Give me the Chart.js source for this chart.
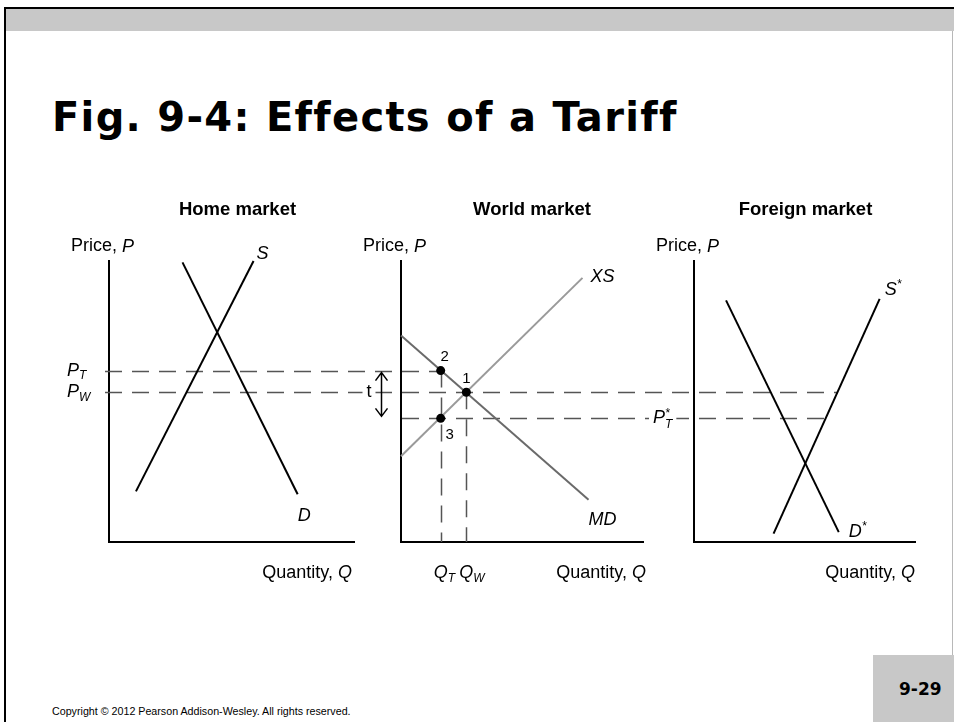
<!DOCTYPE html>
<html>
<head>
<meta charset="utf-8">
<title>Fig. 9-4: Effects of a Tariff</title>
<script src="https://cdn.jsdelivr.net/npm/chart.js@4.4.0/dist/chart.umd.min.js"></script>
<style>
  html, body { margin: 0; padding: 0; background: #fff; }
  body { width: 954px; height: 722px; position: relative; overflow: hidden; font-family: "Liberation Sans", Arial, sans-serif; }
  .frame-top { position: absolute; left: 4px; top: 7px; width: 950px; height: 2px; background: #000; }
  .frame-left { position: absolute; left: 4px; top: 7px; width: 2px; height: 715px; background: #000; }
  .band { position: absolute; left: 6px; top: 9px; width: 948px; height: 22px; background: #c8c8c8; }
  .frame-right { position: absolute; left: 952px; top: 31px; width: 1px; height: 624px; background: #b8b8b8; }
  h1 { position: absolute; left: 52px; top: 97px; margin: 0; font: bold 40px/40px "DejaVu Sans", Verdana, sans-serif; letter-spacing: 1.3px; white-space: nowrap; }
  .panel { position: absolute; top: 190px; }
  .copyright { position: absolute; left: 52px; top: 706px; font-size: 10.7px; line-height: 10px; white-space: nowrap; }
  .pagenum { position: absolute; left: 873px; top: 655px; width: 81px; height: 67px; background: #c8c8c8; }
  .pagenum span { position: absolute; left: 26px; top: 26px; font: bold 17px/17px "DejaVu Sans", sans-serif; }
</style>
</head>
<body>
<div class="frame-top"></div>
<div class="band"></div>
<div class="frame-left"></div>
<div class="frame-right"></div>
<h1>Fig. 9-4: Effects of a Tariff</h1>

<canvas id="home" class="panel" width="360" height="410" style="left:0px"></canvas>
<canvas id="world" class="panel" width="288" height="410" style="left:360px"></canvas>
<canvas id="foreign" class="panel" width="306" height="410" style="left:648px"></canvas>

<div class="copyright">Copyright © 2012 Pearson Addison-Wesley. All rights reserved.</div>
<div class="pagenum"><span>9-29</span></div>

<script>
// price levels shared by all three panels (same vertical scale 0-100)
const priceT = 61;       // P_T, home price with the tariff
const priceW = 53.3;     // P_W, free trade world price
const priceTstar = 44;   // P*_T, foreign price with the tariff

// home market curves [quantity, price]
const homeSupply = [[11, 18], [59, 100]];
const homeDemand = [[30, 99.5], [77, 17]];

// world market curves
const exportSupply = [[0, 30.5], [75, 94]];
const importDemand = [[0, 73.5], [77.5, 15]];
const qtyT = 16.4;   // Q_T
const qtyW = 27;     // Q_W
const worldPoints = [[qtyW, priceW], [qtyT, priceT], [qtyT, priceTstar]];
const worldPointNames = ['1', '2', '3'];

// foreign market curves
const foreignSupply = [[36, 3], [84, 86.5]];
const foreignDemand = [[14.5, 86], [65.5, 3.5]];

const FAM = '"Liberation Sans", Arial, sans-serif';
const DASH = [17, 10];
const DASH_ORIGIN = 105;
const GUIDE_COLOR = '#555';

// quantity where a straight curve reaches a given price
function qtyAt(line, p) {
  const [[x0, y0], [x1, y1]] = line;
  return x0 + (p - y0) * (x1 - x0) / (y1 - y0);
}

function fontOf(mode, size) {
  if (mode === 'b') return 'bold ' + size + 'px ' + FAM;
  if (mode === 'i') return 'italic ' + size + 'px ' + FAM;
  if (mode === 'sub' || mode === 'sup' || mode === 'ss') return 'italic ' + Math.round(size * 0.64) + 'px ' + FAM;
  return size + 'px ' + FAM;
}

function partWidth(ctx, p, size) {
  ctx.font = fontOf(p[1], size);
  if (p[1] === 'ss') return Math.max(...p[0].split('|').map(s => ctx.measureText(s).width));
  return ctx.measureText(p[0]).width;
}

// draws text made of parts like ['P','i'], ['T','sub'], ['*|T','ss']
function drawRich(ctx, parts, x, y, size, align, bg) {
  const widths = parts.map(p => partWidth(ctx, p, size));
  const total = widths.reduce((a, b) => a + b, 0);
  let cx = align === 'center' ? x - total / 2 : align === 'right' ? x - total : x;
  if (bg) {
    ctx.fillStyle = '#fff';
    ctx.fillRect(cx - 4, y - size * 0.6, total + 8, size * 1.25);
  }
  ctx.fillStyle = '#000';
  ctx.textBaseline = 'middle';
  ctx.textAlign = 'left';
  parts.forEach((p, i) => {
    ctx.font = fontOf(p[1], size);
    if (p[1] === 'sub') ctx.fillText(p[0], cx, y + size * 0.3);
    else if (p[1] === 'sup') ctx.fillText(p[0], cx, y - size * 0.3);
    else if (p[1] === 'ss') {
      const [a, b] = p[0].split('|');
      ctx.fillText(a, cx, y - size * 0.28);
      ctx.fillText(b, cx, y + size * 0.34);
    } else ctx.fillText(p[0], cx, y);
    cx += widths[i];
  });
}

// guide lines, arrow and labels, all placed through the chart scales
function decor(spec, pageLeft) {
  function px(chart, v, side) {
    const xs = chart.scales.x;
    if (v === 'edge') return side === 0 ? 0 : chart.width;
    if (v === 'axis') return xs.getPixelForValue(0) - 4;
    return xs.getPixelForValue(v);
  }
  return {
    id: 'decor',
    beforeDatasetsDraw(chart) {
      const ctx = chart.ctx, xs = chart.scales.x, ys = chart.scales.y;
      ctx.save();
      ctx.strokeStyle = GUIDE_COLOR;
      ctx.lineWidth = 1.5;
      ctx.setLineDash(DASH);
      (spec.hGuides || []).forEach(g => {
        const x0 = px(chart, g.from, 0), x1 = px(chart, g.to, 1), y = Math.round(ys.getPixelForValue(g.y)) + 0.5;
        ctx.lineDashOffset = pageLeft + x0 - DASH_ORIGIN;
        ctx.beginPath(); ctx.moveTo(x0, y); ctx.lineTo(x1, y); ctx.stroke();
      });
      (spec.vGuides || []).forEach(g => {
        const x = Math.round(xs.getPixelForValue(g.x)) + 0.5;
        const y0 = ys.getPixelForValue(g.from), y1 = ys.getPixelForValue(g.to);
        ctx.lineDashOffset = 0;
        ctx.beginPath(); ctx.moveTo(x, y0); ctx.lineTo(x, y1); ctx.stroke();
      });
      ctx.restore();
    },
    afterDatasetsDraw(chart) {
      const ctx = chart.ctx, xs = chart.scales.x, ys = chart.scales.y;
      ctx.save();
      if (spec.arrow) {
        const a = spec.arrow;
        const x = xs.getPixelForValue(0) + a.dx;
        const yTop = ys.getPixelForValue(a.from) + 2, yBot = ys.getPixelForValue(a.to) - 2;
        ctx.strokeStyle = '#000';
        ctx.lineWidth = 1.5;
        ctx.beginPath();
        ctx.moveTo(x, yTop); ctx.lineTo(x, yBot);
        ctx.moveTo(x - 6, yTop + 8); ctx.lineTo(x, yTop); ctx.lineTo(x + 6, yTop + 8);
        ctx.moveTo(x - 6, yBot - 8); ctx.lineTo(x, yBot); ctx.lineTo(x + 6, yBot - 8);
        ctx.stroke();
      }
      (spec.labels || []).forEach(l => {
        const x = xs.getPixelForValue(l.x) + (l.dx || 0);
        const y = ys.getPixelForValue(l.y) + (l.dy || 0);
        drawRich(ctx, l.parts, x, y, l.size || 18, l.align || 'left', l.bg);
      });
      ctx.restore();
    }
  };
}

function curve(pts, color) {
  return {
    data: pts.map(([x, y]) => ({ x, y })),
    showLine: true, borderColor: color, borderWidth: 2,
    pointRadius: 0, clip: false
  };
}

function panelOptions(padding) {
  const axis = { type: 'linear', min: 0, max: 100,
    grid: { display: false, drawTicks: false, tickLength: 0 },
    ticks: { display: false, padding: 0 },
    border: { display: true, color: '#000', width: 2 } };
  return {
    responsive: false, animation: false, devicePixelRatio: 1, events: [],
    layout: { padding },
    plugins: { legend: { display: false }, tooltip: { enabled: false } },
    scales: { x: { ...axis }, y: { ...axis } }
  };
}

function axisLabels(title, titleDx, qDx) {
  return [
    { parts: [[title, 'b']], x: 50, y: 100, dx: titleDx, dy: -51, align: 'center', size: 18.5 },
    { parts: [['Price, ', ''], ['P', 'i']], x: 0, y: 100, dx: -38, dy: -14.5 },
    { parts: [['Quantity, ', ''], ['Q', 'i']], x: 100, y: 0, dx: qDx, dy: 31, align: 'right' }
  ];
}

// Home market
new Chart(document.getElementById('home'), {
  type: 'scatter',
  data: { datasets: [curve(homeSupply, '#000'), curve(homeDemand, '#000')] },
  options: panelOptions({ left: 109, right: 6, top: 71, bottom: 58 }),
  plugins: [decor({
    hGuides: [{ y: priceT, from: 'axis', to: 'edge' }, { y: priceW, from: 'axis', to: 'edge' }],
    labels: axisLabels('Home market', 6, -2).concat([
      { parts: [['S', 'i']], x: homeSupply[1][0], y: homeSupply[1][1], dx: 3, dy: -7 },
      { parts: [['D', 'i']], x: homeDemand[1][0], y: homeDemand[1][1], dx: 0, dy: 22 },
      { parts: [['P', 'i'], ['T', 'sub']], x: 0, y: priceT, dx: -42 },
      { parts: [['P', 'i'], ['W', 'sub']], x: 0, y: priceW, dx: -42 }
    ])
  }, 0)]
});

// World market (first dataset is drawn on top, so the points come first)
new Chart(document.getElementById('world'), {
  type: 'scatter',
  data: {
    datasets: [
      { data: worldPoints.map(([x, y]) => ({ x, y })), pointRadius: 4.5, backgroundColor: '#000', borderWidth: 0, clip: false },
      curve(importDemand, '#6a6a6a'),
      curve(exportSupply, '#9a9a9a')
    ]
  },
  options: panelOptions({ left: 41, right: 5, top: 71, bottom: 58 }),
  plugins: [decor({
    hGuides: [
      { y: priceT, from: 'edge', to: qtyT },
      { y: priceW, from: 'edge', to: 'edge' },
      { y: priceTstar, from: 0, to: 'edge' }
    ],
    vGuides: [{ x: qtyT, from: priceT, to: 0 }, { x: qtyW, from: priceW, to: 0 }],
    arrow: { dx: -19.5, from: priceT, to: priceTstar },
    labels: axisLabels('World market', 10, 3).concat([
      { parts: [['XS', 'i']], x: exportSupply[1][0], y: exportSupply[1][1], dx: 8, dy: -1 },
      { parts: [['MD', 'i']], x: importDemand[1][0], y: importDemand[1][1], dx: 0, dy: 20 },
      { parts: [['t', '']], x: 0, y: priceW, dx: -32, align: 'center', bg: true },
      { parts: [[worldPointNames[0], '']], x: worldPoints[0][0], y: worldPoints[0][1], dx: 0, dy: -13, align: 'center', size: 15 },
      { parts: [[worldPointNames[1], '']], x: worldPoints[1][0], y: worldPoints[1][1], dx: 4, dy: -14, align: 'center', size: 15 },
      { parts: [[worldPointNames[2], '']], x: worldPoints[2][0], y: worldPoints[2][1], dx: 9, dy: 16, align: 'center', size: 15 },
      { parts: [['Q', 'i'], ['T', 'sub']], x: qtyT, y: 0, dx: -7, dy: 31 },
      { parts: [['Q', 'i'], ['W', 'sub']], x: qtyW, y: 0, dx: -7, dy: 31 }
    ])
  }, 360)]
});

// Foreign market
new Chart(document.getElementById('foreign'), {
  type: 'scatter',
  data: { datasets: [curve(foreignSupply, '#000'), curve(foreignDemand, '#000')] },
  options: panelOptions({ left: 46, right: 39, top: 71, bottom: 58 }),
  plugins: [decor({
    hGuides: [
      { y: priceW, from: 'edge', to: qtyAt(foreignSupply, priceW) },
      { y: priceTstar, from: 'edge', to: qtyAt(foreignSupply, priceTstar) }
    ],
    labels: axisLabels('Foreign market', 1, 0).concat([
      { parts: [['S', 'i'], ['*', 'sup']], x: foreignSupply[1][0], y: foreignSupply[1][1], dx: 5, dy: -9 },
      { parts: [['D', 'i'], ['*', 'sup']], x: foreignDemand[1][0], y: foreignDemand[1][1], dx: 10, dy: 0 },
      { parts: [['P', 'i'], ['*|T', 'ss']], x: 0, y: priceTstar, dx: -41, bg: true }
    ])
  }, 648)]
});
</script>
</body>
</html>
